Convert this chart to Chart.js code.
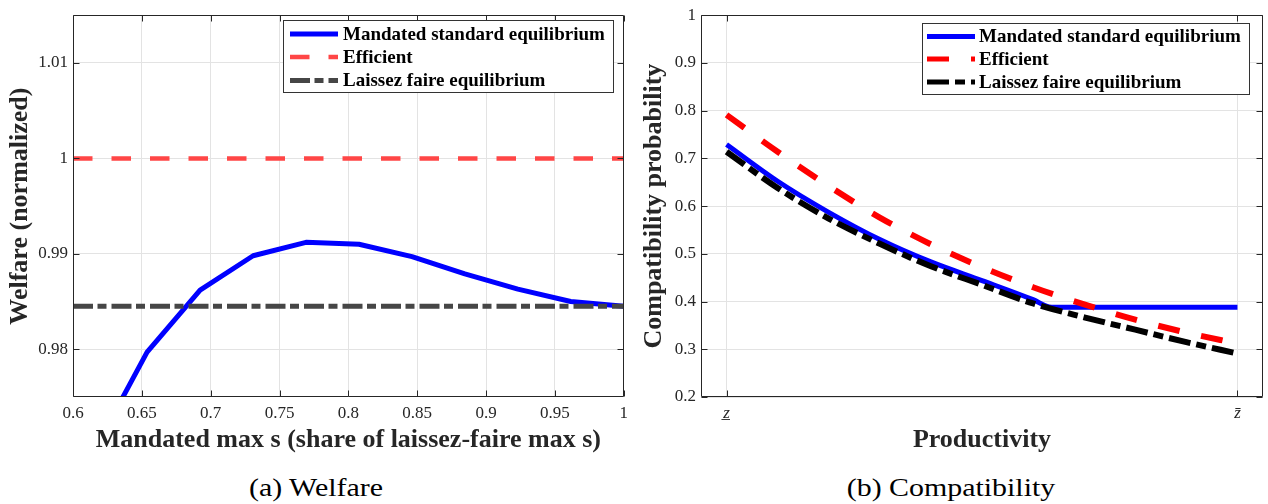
<!DOCTYPE html>
<html><head><meta charset="utf-8">
<script src="https://cdn.jsdelivr.net/npm/chart.js@4.4.1/dist/chart.umd.min.js"></script>
<style>
html,body{margin:0;padding:0;background:#fff;}
#wrap{position:relative;width:1268px;height:504px;overflow:hidden;background:#fff;}
canvas{position:absolute;top:0;}
.cap{position:absolute;top:472px;font-family:'Liberation Serif','DejaVu Serif',serif;font-size:26px;line-height:32px;color:#000;white-space:nowrap;transform:translateX(-50%) scaleX(1.15);}
</style></head>
<body><div id="wrap">
<canvas id="c1" width="634" height="470" style="left:0"></canvas>
<canvas id="c2" width="634" height="470" style="left:634px"></canvas>
<div class="cap" style="left:316px">(a) Welfare</div>
<div class="cap" style="left:951px">(b) Compatibility</div>
</div>
<script>
// ---------- Panel (a): Welfare ----------
const welfareX = [0.6154, 0.6538, 0.6923, 0.7308, 0.7692, 0.8077, 0.8462, 0.8846, 0.9231, 0.9615, 1.0];
const welfareMandated = [0.9694, 0.9797, 0.9862, 0.9898, 0.9912, 0.9910, 0.9897, 0.9879, 0.9863, 0.9850, 0.9845];
const welfareFlatX = [0.6, 1.0];
const welfareEfficient = [1.0, 1.0];
const welfareLaissez = [0.9845, 0.9845];
const welfareXTicks = [0.6, 0.65, 0.7, 0.75, 0.8, 0.85, 0.9, 0.95, 1.0];
const welfareXLabels = ['0.6', '0.65', '0.7', '0.75', '0.8', '0.85', '0.9', '0.95', '1'];
const welfareYTicks = [0.98, 0.99, 1.0, 1.01];
const welfareYLabels = ['0.98', '0.99', '1', '1.01'];

// ---------- Panel (b): Compatibility ----------
const prodMandatedX = [0, 0.1, 0.2, 0.3, 0.4, 0.5, 0.6, 0.636, 0.7, 0.8, 0.9, 1.0];
const compMandated = [0.729, 0.652, 0.587, 0.530, 0.483, 0.444, 0.404, 0.388, 0.388, 0.388, 0.388, 0.388];
const prodX = [0, 0.1, 0.2, 0.3, 0.4, 0.5, 0.6, 0.7, 0.8, 0.9, 1.0];
const compEfficient = [0.791, 0.714, 0.642, 0.576, 0.520, 0.472, 0.430, 0.394, 0.362, 0.335, 0.312];
const compLaissez = [0.714, 0.638, 0.574, 0.521, 0.474, 0.435, 0.396, 0.367, 0.341, 0.315, 0.291];
const prodXTicks = [0, 1];
const prodXLabels = ['z\u0332', 'z\u0304'];
const compYTicks = [0.2, 0.3, 0.4, 0.5, 0.6, 0.7, 0.8, 0.9, 1.0];
const compYLabels = ['0.2', '0.3', '0.4', '0.5', '0.6', '0.7', '0.8', '0.9', '1'];

const seriesNames = ['Mandated standard equilibrium', 'Efficient', 'Laissez faire equilibrium'];

const FONT = "'Liberation Serif', 'DejaVu Serif', serif";
const TXT = '#262626';
const GRID = '#e3e3e3';

function pts(xs, ys) { return xs.map((x, i) => ({x: x, y: ys[i]})); }
function fixedTicks(values) { return function (scale) { scale.ticks = values.map(v => ({value: v})); }; }

const frameLegend = {
  id: 'frameLegend',
  afterDatasetsDraw(chart, args, o) {
    const {ctx, chartArea: a, scales} = chart;
    const xs = scales.x, ys = scales.y;
    ctx.save();
    ctx.strokeStyle = '#262626';
    ctx.lineWidth = 1;
    ctx.setLineDash([]);
    const L = Math.round(a.left) + 0.5, R = Math.round(a.right) - 0.5;
    const T = Math.round(a.top) + 0.5, B = Math.round(a.bottom) - 0.5;
    ctx.beginPath();
    xs.ticks.forEach(t => {
      const p = Math.round(xs.getPixelForValue(t.value)) + 0.5;
      ctx.moveTo(p, B); ctx.lineTo(p, B - 6);
      ctx.moveTo(p, T); ctx.lineTo(p, T + 6);
    });
    ys.ticks.forEach(t => {
      const p = Math.round(ys.getPixelForValue(t.value)) + 0.5;
      ctx.moveTo(L, p); ctx.lineTo(L + 6, p);
      ctx.moveTo(R, p); ctx.lineTo(R - 6, p);
    });
    ctx.rect(L, T, R - L, B - T);
    ctx.stroke();

    const b = o.box;
    ctx.fillStyle = '#fff';
    ctx.fillRect(b[0], b[1], b[2] - b[0], b[3] - b[1]);
    ctx.strokeStyle = '#333';
    ctx.strokeRect(b[0] + 0.5, b[1] + 0.5, b[2] - b[0], b[3] - b[1]);
    chart.data.datasets.forEach((ds, i) => {
      const y = o.rows[i];
      ctx.save();
      ctx.strokeStyle = ds.borderColor;
      ctx.lineWidth = Math.min(ds.borderWidth, 5);
      ctx.setLineDash(ds.borderDash || []);
      ctx.lineCap = 'butt';
      ctx.beginPath();
      ctx.moveTo(o.sample[0], y); ctx.lineTo(o.sample[1], y);
      ctx.stroke();
      ctx.restore();
      ctx.fillStyle = '#000';
      ctx.font = 'bold 19px ' + FONT;
      ctx.textBaseline = 'middle';
      ctx.textAlign = 'left';
      ctx.fillText(ds.label, o.textX, y + 1);
    });
    ctx.restore();
  }
};

function baseOptions(cfg) {
  return {
    responsive: false,
    animation: false,
    devicePixelRatio: 1,
    layout: {padding: {left: 0, right: cfg.padRight, top: 8, bottom: 0}},
    elements: {point: {radius: 0, hoverRadius: 0}},
    events: [],
    plugins: {legend: {display: false}, tooltip: {enabled: false}, frameLegend: cfg.legend},
    scales: {
      x: {
        type: 'linear', min: cfg.xMin, max: cfg.xMax,
        afterBuildTicks: fixedTicks(cfg.xTicks),
        afterFit(s) { s.height = 73; },
        ticks: {callback: (v, i) => cfg.xLabels[i], autoSkip: false, maxRotation: 0, minRotation: 0, padding: cfg.xTickPad, color: TXT,
                font: {family: FONT, size: 17, style: cfg.xItalic ? 'italic' : 'normal'}},
        grid: {color: GRID, drawTicks: false, lineWidth: 1},
        border: {display: false},
        title: {display: true, text: cfg.xTitle, color: TXT, font: {family: FONT, size: 26, weight: 'bold'}, padding: {top: 0, bottom: 14}}
      },
      y: {
        type: 'linear', min: cfg.yMin, max: cfg.yMax,
        afterBuildTicks: fixedTicks(cfg.yTicks),
        afterFit(s) { s.width = cfg.yWidth; },
        ticks: {callback: (v, i) => cfg.yLabels[i], autoSkip: false, padding: 5, color: TXT, font: {family: FONT, size: 17}},
        grid: {color: GRID, drawTicks: false, lineWidth: 1},
        border: {display: false},
        title: {display: true, text: cfg.yTitle, color: TXT, font: {family: FONT, size: 26, weight: 'bold'}, padding: {top: 5, bottom: 0}}
      }
    }
  };
}

new Chart(document.getElementById('c1'), {
  type: 'line',
  data: {datasets: [
    {label: seriesNames[0], data: pts(welfareX, welfareMandated), borderColor: '#0000ff', borderWidth: 5, borderJoinStyle: 'round', clip: 0, order: 3, fill: false},
    {label: seriesNames[1], data: pts(welfareFlatX, welfareEfficient), borderColor: '#ff4646', borderWidth: 4.5, borderDash: [19.5, 19], borderCapStyle: 'butt', clip: 0, order: 2, fill: false},
    {label: seriesNames[2], data: pts(welfareFlatX, welfareLaissez), borderColor: '#464646', borderWidth: 5, borderDash: [20, 4.5, 9, 5], borderCapStyle: 'butt', clip: 0, order: 1, fill: false}
  ]},
  options: baseOptions({
    padRight: 9, xMin: 0.6, xMax: 1.0, xTicks: welfareXTicks, xLabels: welfareXLabels, xItalic: false, xTickPad: 6,
    yMin: 0.975, yMax: 1.015, yTicks: welfareYTicks, yLabels: welfareYLabels, yWidth: 73,
    xTitle: 'Mandated max s (share of laissez-faire max s)', yTitle: 'Welfare (normalized)',
    legend: {box: [283, 20, 613, 92], rows: [34, 57, 80.5], sample: [290, 338], textX: 343}
  }),
  plugins: [frameLegend]
});

new Chart(document.getElementById('c2'), {
  type: 'line',
  data: {datasets: [
    {label: seriesNames[0], data: pts(prodMandatedX, compMandated), borderColor: '#0000ff', borderWidth: 5, cubicInterpolationMode: 'monotone', borderJoinStyle: 'round', clip: 0, order: 3, fill: false},
    {label: seriesNames[1], data: pts(prodX, compEfficient), borderColor: '#ff0000', borderWidth: 6, borderDash: [22, 22], cubicInterpolationMode: 'monotone', borderCapStyle: 'butt', clip: 0, order: 2, fill: false},
    {label: seriesNames[2], data: pts(prodX, compLaissez), borderColor: '#000000', borderWidth: 6, borderDash: [22, 6, 10, 6], cubicInterpolationMode: 'monotone', borderCapStyle: 'butt', clip: 0, order: 1, fill: false}
  ]},
  options: baseOptions({
    padRight: 5, xMin: -0.05, xMax: 1.05, xTicks: prodXTicks, xLabels: prodXLabels, xItalic: true, xTickPad: 6,
    yMin: 0.2, yMax: 1.0, yTicks: compYTicks, yLabels: compYLabels, yWidth: 67,
    xTitle: 'Productivity', yTitle: 'Compatibility probability',
    legend: {box: [288, 23, 615, 94], rows: [36.5, 59, 82], sample: [293, 341], textX: 345}
  }),
  plugins: [frameLegend]
});
</script>
</body></html>
